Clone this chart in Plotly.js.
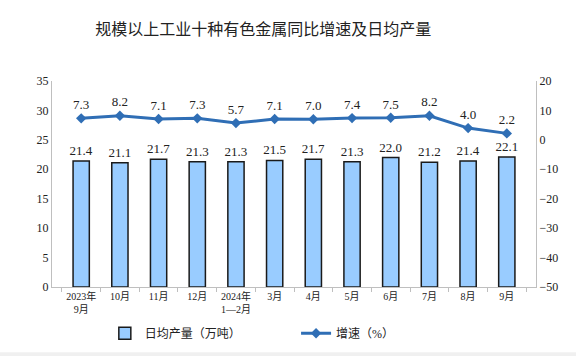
<!DOCTYPE html>
<html><head><meta charset="utf-8">
<script src="https://cdn.plot.ly/plotly-3.0.1.min.js"></script>
<style>html,body{margin:0;padding:0;background:#fff;}#chart{width:576px;height:356px;}</style>
</head><body><div id="chart"></div>
<script>
const categories = ["2023年<br>9月","10月","11月","12月","2024年<br>1—2月","3月","4月","5月","6月","7月","8月","9月"];
const dailyOutput = [21.4,21.1,21.7,21.3,21.3,21.5,21.7,21.3,22.0,21.2,21.4,22.1];
const growthRate = [7.3,8.2,7.1,7.3,5.7,7.1,7.0,7.4,7.5,8.2,4.0,2.2];

const serif = "Liberation Serif, Times New Roman, Noto Sans CJK SC, serif";
const traces = [
  {
    type: 'bar', name: '日均产量（万吨）', x: categories, y: dailyOutput,
    marker: {color: '#99CCFF', line: {color: '#1a1a1a', width: 1.5}},
    width: 0.42, legend: 'legend',
    text: dailyOutput.map(v => v.toFixed(1)), textposition: 'outside', cliponaxis: false,
    constraintext: 'none',
    textfont: {family: serif, size: 13, color: '#222'},
    hoverinfo: 'skip'
  },
  {
    type: 'scatter', mode: 'lines+markers+text', name: '增速（%）', x: categories, y: growthRate,
    yaxis: 'y2', legend: 'legend2',
    line: {color: '#2F6EB5', width: 3},
    marker: {symbol: 'diamond', size: 8, color: '#2F6EB5'},
    text: growthRate.map(v => v.toFixed(1)), textposition: 'top center', cliponaxis: false,
    textfont: {family: serif, size: 13, color: '#222'},
    hoverinfo: 'skip'
  }
];

const legendCommon = {orientation: 'h', xref: 'container', yref: 'container', y: 0.064, yanchor: 'middle', xanchor: 'left',
  font: {family: serif, size: 12, color: '#222'}, itemwidth: 30, bgcolor: 'rgba(0,0,0,0)'};

const layout = {
  width: 576, height: 356,
  margin: {l: 52, r: 40, t: 81, b: 69, autoexpand: false},
  paper_bgcolor: '#fff', plot_bgcolor: '#fff',
  title: {text: '规模以上工业十种有色金属同比增速及日均产量', x: 0.457, xanchor: 'center', y: 0.918, yanchor: 'middle',
    font: {family: 'Noto Sans CJK SC, sans-serif', size: 16, color: '#222'}},
  showlegend: true,
  legend: Object.assign({}, legendCommon, {x: 0.182}),
  legend2: Object.assign({}, legendCommon, {x: 0.514}),
  xaxis: {
    type: 'category', showline: true, linecolor: '#bfbfbf', linewidth: 1,
    ticks: 'outside', tickson: 'boundaries', ticklen: 4, tickcolor: '#bfbfbf', tickangle: 0,
    tickfont: {family: serif, size: 10, color: '#222'}, showgrid: false, zeroline: false
  },
  yaxis: {
    range: [0, 35], dtick: 5, showline: true, linecolor: '#bfbfbf', linewidth: 1,
    ticks: '', showgrid: false, zeroline: false,
    tickfont: {family: serif, size: 12, color: '#222'}
  },
  yaxis2: {
    range: [-50, 20], dtick: 10, overlaying: 'y', side: 'right', showline: true, linecolor: '#bfbfbf', linewidth: 1,
    ticks: '', showgrid: false, zeroline: false,
    tickfont: {family: serif, size: 12, color: '#222'}
  },
  shapes: [{type: 'rect', xref: 'paper', yref: 'paper', x0: -0.2, x1: 1.2, y0: -0.4, y1: -0.317,
    fillcolor: '#f0f0f0', line: {width: 0}, layer: 'below'}]
};

Plotly.newPlot('chart', traces, layout, {displayModeBar: false, staticPlot: true});
</script>
</body></html>
